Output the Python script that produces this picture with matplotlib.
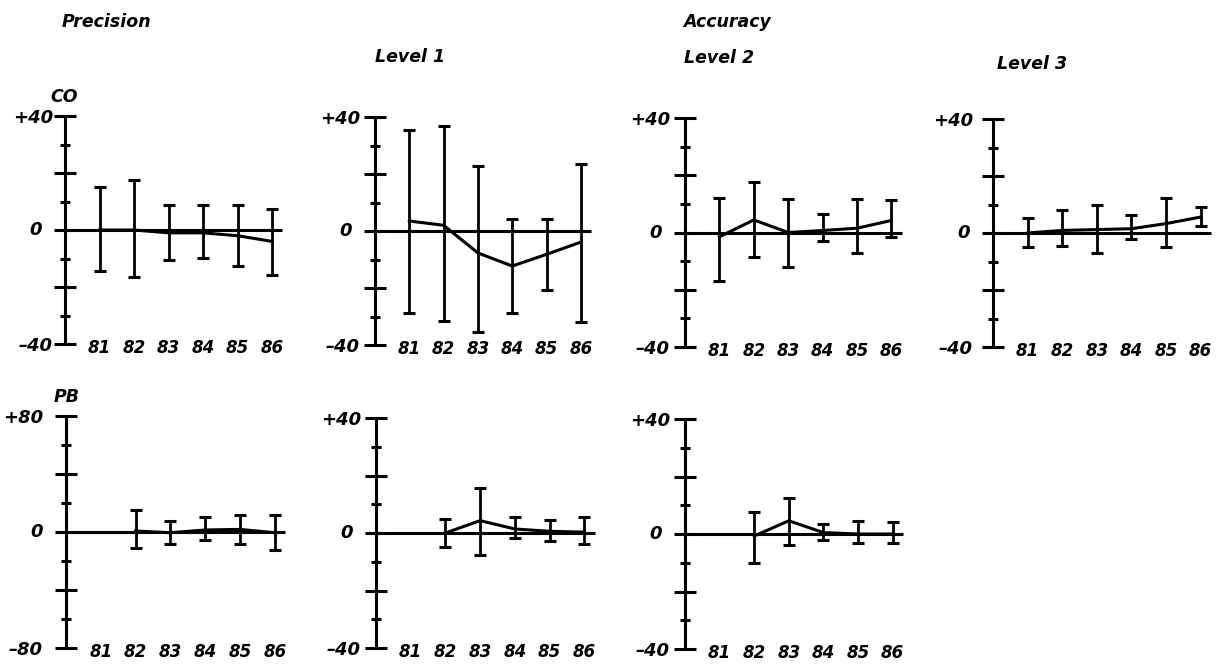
import matplotlib
matplotlib.use("Agg")
import matplotlib.pyplot as plt
import numpy as np

plt.rcParams['font.family'] = ['DejaVu Sans']
plt.rcParams['font.style'] = 'oblique'
plt.rcParams['font.weight'] = 'bold'

W, H = 1219, 667

# --- data ---
years = [81, 82, 83, 84, 85, 86]
years_pb = [82, 83, 84, 85, 86]

co_prec_mean = [0.0, 0.0, -1.0, -1.0, -2.0, -4.0]
co_prec_lo = [-14.5, -16.5, -10.5, -9.7, -12.6, -15.8]
co_prec_hi = [15.2, 17.5, 8.6, 8.6, 8.6, 7.5]

co_l1_mean = [3.5, 2.0, -7.7, -12.3, -8.2, -3.9]
co_l1_lo = [-28.6, -31.5, -35.4, -28.6, -20.6, -31.9]
co_l1_hi = [35.5, 36.8, 22.8, 4.3, 4.3, 23.6]

co_l2_mean = [-1.5, 4.4, 0.0, 0.7, 1.5, 4.2]
co_l2_lo = [-16.8, -8.7, -11.9, -2.9, -7.0, -1.7]
co_l2_hi = [12.2, 17.6, 11.8, 6.4, 11.6, 11.4]

co_l3_mean = [0.0, 0.9, 1.2, 1.5, 3.3, 5.6]
co_l3_lo = [-5.0, -4.7, -7.0, -2.1, -5.0, 2.3]
co_l3_hi = [5.3, 8.2, 9.7, 6.2, 12.3, 9.1]

pb_prec_mean = [0.7, -0.5, 1.4, 1.8, -0.5]
pb_prec_lo = [-10.8, -8.5, -5.7, -8.0, -12.4]
pb_prec_hi = [15.2, 7.6, 10.6, 11.5, 11.5]

pb_l1_mean = [0.0, 4.3, 1.4, 0.6, 0.3]
pb_l1_lo = [-5.0, -7.7, -1.7, -2.9, -3.7]
pb_l1_hi = [4.9, 15.6, 5.5, 4.6, 5.5]

pb_l2_mean = [-0.7, 4.6, 0.5, 0.0, 0.0]
pb_l2_lo = [-10.2, -3.8, -2.1, -3.2, -3.2]
pb_l2_hi = [7.5, 12.4, 3.4, 4.5, 4.3]

year_labels = [str(y) for y in years]


def px(x, y):
    return x / W, 1 - y / H


def panel(fig, axis_x, step, top, bot, ymax, xs, mean, lo, hi, gap=15):
    # axes spans data x 79..87, y -ymax..ymax
    l, b = px(axis_x - step, bot)
    w = 8 * step / W
    h = (bot - top) / H
    ax = fig.add_axes([l, b, w, h])
    ax.set_xlim(79, 87)
    ax.set_ylim(-ymax, ymax)
    for s in ['top', 'right', 'bottom']:
        ax.spines[s].set_visible(False)
    ax.spines['left'].set_position(('data', 80))
    ax.spines['left'].set_linewidth(2.2)
    ax.spines['left'].set_capstyle('butt')

    ax.set_yticks([-ymax, -ymax / 2, 0, ymax / 2, ymax])
    ax.set_yticklabels(['\u2013%d' % ymax, '', '', '', '+%d' % ymax])
    ax.set_yticks([-3 * ymax / 4, -ymax / 4, ymax / 4, 3 * ymax / 4], minor=True)
    pad = gap / 1.389 - 8
    ax.tick_params(axis='y', which='major', direction='inout', length=16,
                   width=2.2, pad=pad, labelsize=13)
    ax.tick_params(axis='y', which='minor', direction='inout', length=7, width=2.2)
    ax.annotate('0', xy=(80, 0), xytext=(-23 / 1.389, 0), textcoords='offset points',
                ha='right', va='center', fontsize=13)

    ax.set_xticks(years)
    ax.set_xticklabels(year_labels)
    ax.tick_params(axis='x', length=0, pad=3, labelsize=12)
    plt.setp(ax.get_xticklabels(), va='center')

    ax.hlines(0, 80, 86.3, color='black', lw=2.2, clip_on=False)
    mean = np.array(mean)
    yerr = [mean - np.array(lo), np.array(hi) - mean]
    ax.errorbar(xs, mean, yerr=yerr, fmt='none', ecolor='black', elinewidth=2,
                capsize=4.5, capthick=2.2, clip_on=False)
    ax.plot(xs, mean, color='black', lw=2.2, clip_on=False)
    return ax


fig = plt.figure(figsize=(W / 100, H / 100), dpi=100)

panel(fig, 65, 34.5, 116, 344, 40, years, co_prec_mean, co_prec_lo, co_prec_hi, gap=12)
panel(fig, 375, 34.3, 117, 345, 40, years, co_l1_mean, co_l1_lo, co_l1_hi)
panel(fig, 685, 34.4, 118, 347, 40, years, co_l2_mean, co_l2_lo, co_l2_hi)
panel(fig, 993, 34.6, 119, 347, 40, years, co_l3_mean, co_l3_lo, co_l3_hi, gap=20)
panel(fig, 66, 34.8, 416, 648, 80, years_pb, pb_prec_mean, pb_prec_lo, pb_prec_hi, gap=23)
panel(fig, 376, 34.7, 418, 648, 40, years_pb, pb_l1_mean, pb_l1_lo, pb_l1_hi)
panel(fig, 685, 34.6, 419, 649, 40, years_pb, pb_l2_mean, pb_l2_lo, pb_l2_hi)

fig.text(*px(62, 22), 'Precision', ha='left', va='center', fontsize=12.5)
fig.text(*px(683, 22), 'Accuracy', ha='left', va='center', fontsize=12.5)
fig.text(*px(375, 57), 'Level 1', ha='left', va='center', fontsize=12.5)
fig.text(*px(684, 58), 'Level 2', ha='left', va='center', fontsize=12.5)
fig.text(*px(997, 64), 'Level 3', ha='left', va='center', fontsize=12.5)
fig.text(*px(64, 97), 'CO', ha='center', va='center', fontsize=12.5)
fig.text(*px(67, 397), 'PB', ha='center', va='center', fontsize=12.5)

fig.savefig('out.png', dpi=100)
